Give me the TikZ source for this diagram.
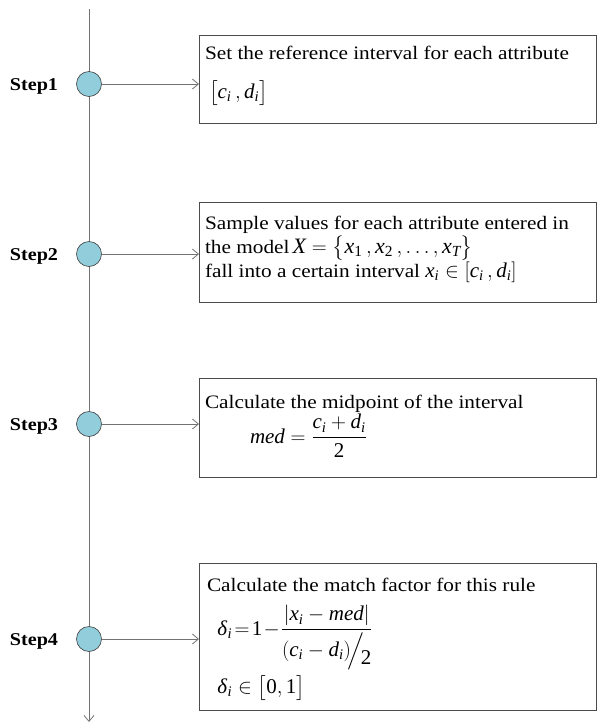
\documentclass[tikz,border=0pt]{standalone}
\usepackage{amsmath}
\usepackage{mathspec}
\setmainfont[FakeStretch=1.12]{Liberation Serif}
\setmathsfont(Digits,Latin,Greek){Liberation Serif}
\usetikzlibrary{arrows.meta}
\newcommand\mbig{\fontsize{21}{22}\selectfont}
\begin{document}
\begin{tikzpicture}[x=1pt,y=-1pt,
  every node/.style={inner sep=0pt, outer sep=0pt},
  stepdot/.style={circle, draw=black!75, fill={rgb,255:red,146;green,205;blue,220}, minimum size=25pt, line width=0.6pt},
  stepbox/.style={draw=black!70, line width=0.8pt, rectangle, anchor=north west},
  conn/.style={draw=black!55, line width=0.8pt, -{Straight Barb[length=6pt,width=10pt]}},
  steplabel/.style={font=\fontsize{18}{20}\selectfont\bfseries, anchor=base},
  boxtext/.style={font=\fontsize{19}{22}\selectfont, anchor=base west, align=left}
]
\useasboundingbox (0,0) rectangle (597,724);
% spine
\coordinate (top) at (89,9);
\coordinate (bot) at (89,722);
\draw[conn] (top) -- (bot);
% dots
\node[stepdot] (c1) at (89,84) {};
\node[stepdot] (c2) at (89,254) {};
\node[stepdot] (c3) at (89,424) {};
\node[stepdot] (c4) at (89,639) {};
% labels
\node[steplabel] (s1) at (34,90) {Step1};
\node[steplabel] (s2) at (34,260) {Step2};
\node[steplabel] (s3) at (34,430) {Step3};
\node[steplabel] (s4) at (34,645) {Step4};
% boxes
\node[stepbox, minimum width=397pt, minimum height=88pt] (b1) at (199,35) {};
\node[stepbox, minimum width=397pt, minimum height=100pt] (b2) at (199,202) {};
\node[stepbox, minimum width=397pt, minimum height=99pt] (b3) at (199,378) {};
\node[stepbox, minimum width=397pt, minimum height=147pt] (b4) at (199,563) {};
% connectors
\draw[conn] (c1) -- (c1 -| b1.west);
\draw[conn] (c2) -- (c2 -| b2.west);
\draw[conn] (c3) -- (c3 -| b3.west);
\draw[conn] (c4) -- (c4 -| b4.west);
% box 1
\node[boxtext] (t11) at (205,59) {Set the reference interval for each attribute};
\node[boxtext] (t12) at (209,98) {\mbig$\bigl[c_i\,,d_i\bigr]$};
% box 2
\node[boxtext] (t21) at (205,229) {Sample values for each attribute entered in};
\node[boxtext] (t22) at (205,253) {the model\,{\fontsize{22}{22}\selectfont$X=\bigl\{x_1\,,x_2\,,\ldots,x_T\bigr\}$}};
\node[boxtext] (t23) at (205,277) {fall into a certain interval {\mbig$x_i\in[c_i\,,d_i]$}};
% box 3
\node[boxtext] (t31) at (205,408) {Calculate the midpoint of the interval};
\node[boxtext] (t32) at (250,443) {\mbig$med=\dfrac{c_i+d_i}{2}$};
% box 4
\node[boxtext] (t41) at (207,591) {Calculate the match factor for this rule};
\node[boxtext] (t42) at (217,635) {\mbig$\delta_i\!=\!1\!-\!\dfrac{|x_i-med|}{(c_i-d_i)\!\Big/\!\lower8pt\hbox{$2$}}$};
\node[boxtext] (t43) at (217,693) {\mbig$\delta_i\in\bigl[0,1\bigr]$};
\end{tikzpicture}
\end{document}
